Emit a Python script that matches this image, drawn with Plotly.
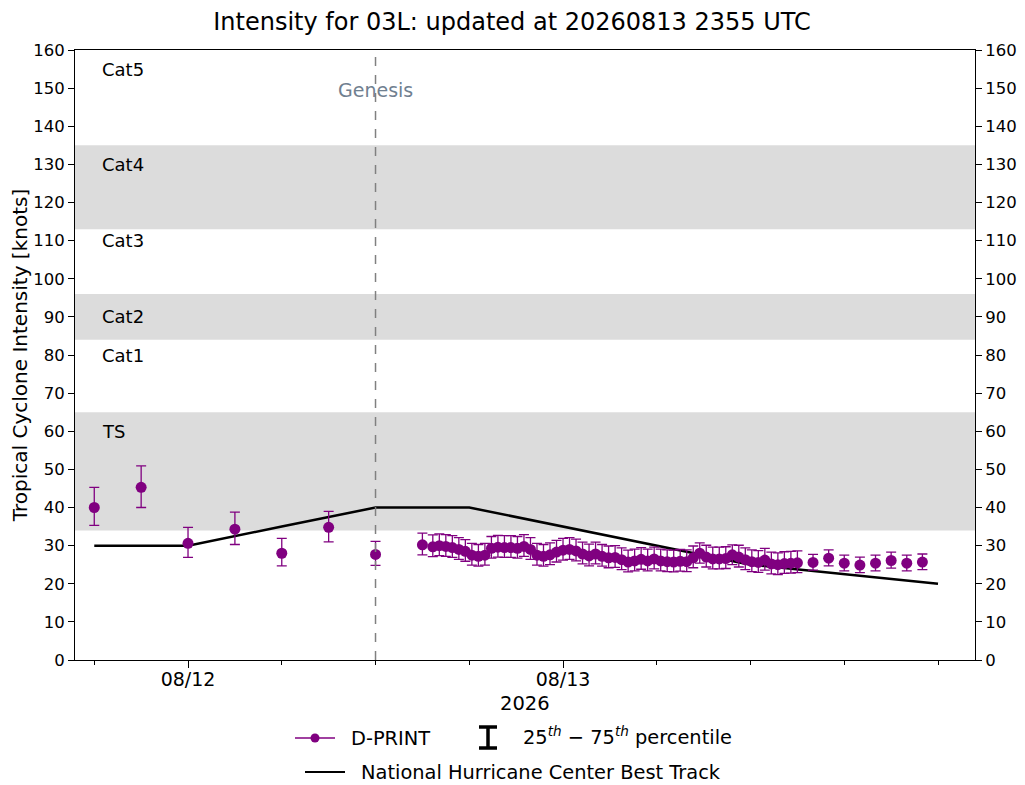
import plotly.graph_objects as go

# D-PRINT estimates: times, median intensity, 25th / 75th percentiles
dprint_times = [
    "2026-08-11 18:00", "2026-08-11 21:00", "2026-08-12 00:00", "2026-08-12 03:00",
    "2026-08-12 06:00", "2026-08-12 09:00", "2026-08-12 12:00", "2026-08-12 15:00",
    "2026-08-12 15:40", "2026-08-12 16:05", "2026-08-12 16:30", "2026-08-12 16:55",
    "2026-08-12 17:20", "2026-08-12 17:45", "2026-08-12 18:10", "2026-08-12 18:35",
    "2026-08-12 19:00", "2026-08-12 19:25", "2026-08-12 19:50", "2026-08-12 20:15",
    "2026-08-12 20:40", "2026-08-12 21:05", "2026-08-12 21:30", "2026-08-12 21:55",
    "2026-08-12 22:20", "2026-08-12 22:45", "2026-08-12 23:10", "2026-08-12 23:35",
    "2026-08-13 00:00", "2026-08-13 00:25", "2026-08-13 00:50", "2026-08-13 01:15",
    "2026-08-13 01:40", "2026-08-13 02:05", "2026-08-13 02:30", "2026-08-13 02:55",
    "2026-08-13 03:20", "2026-08-13 03:45", "2026-08-13 04:10", "2026-08-13 04:35",
    "2026-08-13 05:00", "2026-08-13 05:25", "2026-08-13 05:50", "2026-08-13 06:15",
    "2026-08-13 06:40", "2026-08-13 07:05", "2026-08-13 07:30", "2026-08-13 07:55",
    "2026-08-13 08:20", "2026-08-13 08:45", "2026-08-13 09:10", "2026-08-13 09:35",
    "2026-08-13 10:00", "2026-08-13 10:25", "2026-08-13 10:50", "2026-08-13 11:15",
    "2026-08-13 11:40", "2026-08-13 12:05", "2026-08-13 12:30", "2026-08-13 12:55",
    "2026-08-13 13:20", "2026-08-13 13:45", "2026-08-13 14:10", "2026-08-13 14:35",
    "2026-08-13 15:00", "2026-08-13 16:00", "2026-08-13 17:00", "2026-08-13 18:00",
    "2026-08-13 19:00", "2026-08-13 20:00", "2026-08-13 21:00", "2026-08-13 22:00",
    "2026-08-13 23:00",
]
dprint_vmax = [
    40.0, 45.3, 30.6, 34.3, 28.0, 34.8, 27.7, 30.2,
    29.7, 30.0, 29.8, 29.5, 29.0, 28.5, 27.5, 27.2,
    27.5, 29.3, 29.6, 29.5, 29.5, 29.3, 29.8, 29.0,
    27.5, 27.2, 27.6, 28.3, 28.8, 29.0, 28.6, 27.8,
    27.3, 27.8, 27.2, 26.8, 26.9, 26.3, 25.7, 26.0,
    26.4, 26.0, 26.5, 26.0, 25.8, 25.7, 25.9, 25.8,
    26.8, 28.0, 27.0, 26.5, 26.5, 26.6, 27.6, 27.0,
    26.3, 25.8, 25.6, 26.2, 25.2, 25.0, 25.3, 25.4,
    25.5, 25.6, 26.7, 25.4, 24.9, 25.4, 26.1, 25.4,
    25.7,
]
dprint_p75 = [
    45.3, 50.9, 34.8, 38.8, 31.9, 39.0, 31.1, 33.3,
    32.8, 33.1, 32.9, 32.6, 32.1, 31.6, 30.6, 30.3,
    30.6, 32.4, 32.7, 32.6, 32.6, 32.4, 32.9, 32.1,
    30.6, 30.3, 30.7, 31.4, 31.9, 32.1, 31.7, 30.9,
    30.4, 30.9, 30.3, 29.9, 30.0, 29.4, 28.8, 29.1,
    29.5, 29.1, 29.6, 29.1, 28.9, 28.8, 29.0, 28.9,
    29.9, 30.7, 30.1, 29.6, 29.6, 29.7, 30.2, 30.1,
    29.4, 28.9, 28.7, 29.3, 28.3, 28.1, 28.4, 28.5,
    28.6, 27.7, 28.9, 27.5, 27.0, 27.5, 28.3, 27.5,
    27.8,
]
dprint_p25 = [
    35.3, 40.0, 26.9, 30.3, 24.7, 31.0, 24.8, 27.6,
    27.1, 27.4, 27.2, 26.9, 26.4, 25.9, 24.9, 24.6,
    24.9, 26.7, 27.0, 26.9, 26.9, 26.7, 27.2, 26.4,
    24.9, 24.6, 25.0, 25.7, 26.2, 26.4, 26.0, 25.2,
    24.7, 25.2, 24.6, 24.2, 24.3, 23.7, 23.1, 23.4,
    23.8, 23.4, 23.9, 23.4, 23.2, 23.1, 23.3, 23.2,
    24.2, 25.4, 24.4, 23.9, 23.9, 24.0, 25.0, 24.4,
    23.7, 23.2, 23.0, 23.6, 22.6, 22.4, 22.7, 22.8,
    22.9, 23.6, 24.7, 23.4, 22.9, 23.4, 24.1, 23.4,
    23.7,
]

# NHC best track
bt_times = ["2026-08-11 18:00", "2026-08-12 00:00", "2026-08-12 06:00", "2026-08-12 12:00",
            "2026-08-12 18:00", "2026-08-13 00:00", "2026-08-13 06:00", "2026-08-13 12:00",
            "2026-08-14 00:00"]
bt_vmax = [30, 30, 35, 40, 40, 35, 30, 25, 20]

# category bands and labels
bands = [(34, 65), (84, 96), (113, 135)]
cat_labels = ["Cat5", "Cat4", "Cat3", "Cat2", "Cat1", "TS"]
cat_label_y = [155, 130, 110, 90, 80, 60]

x_ticks = ["2026-08-12", "2026-08-13"]
x_ticktext = ["08/12", "08/13"]
genesis_time = "2026-08-12 12:00"
purple = "#800080"

fig = go.Figure()

fig.add_trace(go.Scatter(
    x=bt_times, y=bt_vmax, mode="lines",
    line=dict(color="black", width=2.5), showlegend=False
))

err_plus = [h - v for h, v in zip(dprint_p75, dprint_vmax)]
err_minus = [v - l for v, l in zip(dprint_vmax, dprint_p25)]
fig.add_trace(go.Scatter(
    x=dprint_times, y=dprint_vmax, mode="markers",
    marker=dict(color=purple, size=11),
    error_y=dict(type="data", symmetric=False, array=err_plus, arrayminus=err_minus,
                 color=purple, thickness=1.3, width=5),
    showlegend=False
))

# invisible trace so the right-hand axis is drawn
fig.add_trace(go.Scatter(x=[bt_times[0]], y=[0], yaxis="y2", mode="markers",
                         marker=dict(opacity=0), showlegend=False, hoverinfo="skip"))

shapes = []
for lo, hi in bands:
    shapes.append(dict(type="rect", xref="paper", yref="y", x0=0, x1=1, y0=lo, y1=hi,
                       fillcolor="#dcdcdc", line=dict(width=0), layer="below"))
shapes.append(dict(type="line", xref="x", yref="paper", x0=genesis_time, x1=genesis_time,
                   y0=0, y1=1, line=dict(color="gray", width=1.5, dash="dash")))

annotations = []
for lab, yv in zip(cat_labels, cat_label_y):
    annotations.append(dict(text=lab, xref="paper", yref="y", x=0.028, y=yv,
                            xanchor="left", yanchor="middle", showarrow=False,
                            font=dict(size=18, color="black")))
annotations.append(dict(text="Genesis", xref="x", yref="y", x=genesis_time, y=149.5,
                        xanchor="center", yanchor="middle", showarrow=False,
                        font=dict(size=19, color="#708090")))
annotations.append(dict(text="2026", xref="paper", yref="paper", x=0.5, y=-0.0705,
                        xanchor="center", yanchor="middle", showarrow=False,
                        font=dict(size=19.5, color="black")))

# hand-made legend below the axes (paper coords, from page pixels)
def px(x):
    return (x - 75) / 900.0

def py(y):
    return (660 - y) / 610.0

shapes += [
    dict(type="line", xref="paper", yref="paper", x0=px(295), x1=px(335), y0=py(738), y1=py(738),
         line=dict(color=purple, width=1.5)),
    dict(type="circle", xref="paper", yref="paper", x0=px(310.5), x1=px(319.5),
         y0=py(742.5), y1=py(733.5), fillcolor=purple, line=dict(color=purple, width=0)),
    dict(type="line", xref="paper", yref="paper", x0=px(488), x1=px(488), y0=py(727), y1=py(748),
         line=dict(color="black", width=3.5)),
    dict(type="line", xref="paper", yref="paper", x0=px(479), x1=px(497), y0=py(727), y1=py(727),
         line=dict(color="black", width=3.5)),
    dict(type="line", xref="paper", yref="paper", x0=px(479), x1=px(497), y0=py(748), y1=py(748),
         line=dict(color="black", width=3.5)),
    dict(type="line", xref="paper", yref="paper", x0=px(305), x1=px(345), y0=py(772), y1=py(772),
         line=dict(color="black", width=2)),
]
annotations += [
    dict(text="D-PRINT", xref="paper", yref="paper", x=px(349), y=py(738), xanchor="left",
         yanchor="middle", showarrow=False, font=dict(size=19.4, color="black")),
    dict(text="25<sup><i>th</i></sup> \u2212 75<sup><i>th</i></sup> percentile", xref="paper",
         yref="paper", x=px(521), y=py(736), xanchor="left", yanchor="middle", showarrow=False,
         font=dict(size=19.4, color="black")),
    dict(text="National Hurricane Center Best Track", xref="paper", yref="paper", x=px(359),
         y=py(772), xanchor="left", yanchor="middle", showarrow=False,
         font=dict(size=19.4, color="black")),
]

yticks = list(range(0, 161, 10))
axis_common = dict(range=[0, 160], tickvals=yticks, ticks="outside", ticklen=6, tickwidth=1,
                   tickcolor="black", showline=True, linecolor="black", linewidth=1,
                   showgrid=False, zeroline=False, automargin=False,
                   tickfont=dict(size=16.5, color="black"))

# page body has an 8px margin, so the figure is shrunk/offset to keep the plot box in place
fig.update_layout(
    width=1017, height=777,
    margin=dict(l=67, r=50, t=42, b=125),
    plot_bgcolor="white", paper_bgcolor="white",
    font=dict(family="DejaVu Sans", color="black"),
    title=dict(text="Intensity for 03L: updated at 20260813 2355 UTC", x=(512 - 8) / 1017,
               xanchor="center", xref="container", y=1 - 14 / 777, yanchor="middle",
               font=dict(size=24, color="black")),
    xaxis=dict(type="date", range=["2026-08-11 16:46", "2026-08-14 02:22"],
               tickmode="array", tickvals=x_ticks, ticktext=x_ticktext,
               ticks="outside", ticklen=7, tickwidth=1, tickcolor="black",
               ticklabelstandoff=-5, automargin=False,
               showline=True, mirror=True, linecolor="black", linewidth=1,
               showgrid=False, zeroline=False, tickfont=dict(size=19, color="black"),
               minor=dict(tickmode="linear", dtick=21600000, tick0="2026-08-12",
                          ticks="outside", ticklen=4, tickcolor="black", showgrid=False)),
    yaxis=dict(title=dict(text="Tropical Cyclone Intensity [knots]", standoff=0,
                          font=dict(size=20, color="black")), **axis_common),
    yaxis2=dict(overlaying="y", side="right", **axis_common),
    shapes=shapes,
    annotations=annotations,
)

fig.write_html("out.html")
